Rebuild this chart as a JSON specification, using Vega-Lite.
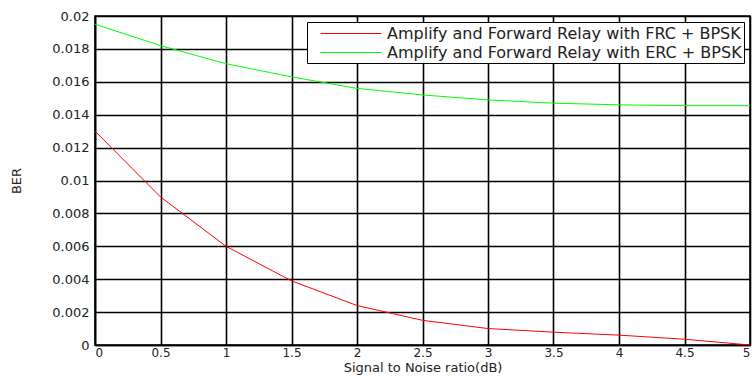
{
  "$schema": "https://vega.github.io/schema/vega-lite/v6.json",
  "width": 655,
  "height": 329,
  "autosize": {"type": "none"},
  "padding": {"left": 95, "top": 16, "right": 2, "bottom": 38},
  "background": "white",
  "config": {
    "font": "DejaVu Sans",
    "view": {"stroke": "black", "strokeWidth": 1.5},
    "axis": {
      "grid": true,
      "gridColor": "black",
      "gridOpacity": 1,
      "gridWidth": 1.6,
      "domainColor": "black",
      "domainWidth": 1.6,
      "ticks": false,
      "labelFont": "DejaVu Sans",
      "labelFontSize": 13,
      "labelColor": "#222222",
      "titleFont": "DejaVu Sans",
      "titleFontSize": 13,
      "titleFontWeight": "normal",
      "titleColor": "#222222"
    }
  },
  "data": {
    "values": [
      {"snr": 0, "ber": 0.013, "series": "Amplify and Forward Relay with FRC + BPSK"},
      {"snr": 0.5, "ber": 0.009, "series": "Amplify and Forward Relay with FRC + BPSK"},
      {"snr": 1, "ber": 0.006, "series": "Amplify and Forward Relay with FRC + BPSK"},
      {"snr": 1.5, "ber": 0.0039, "series": "Amplify and Forward Relay with FRC + BPSK"},
      {"snr": 2, "ber": 0.0024, "series": "Amplify and Forward Relay with FRC + BPSK"},
      {"snr": 2.5, "ber": 0.0015, "series": "Amplify and Forward Relay with FRC + BPSK"},
      {"snr": 3, "ber": 0.001, "series": "Amplify and Forward Relay with FRC + BPSK"},
      {"snr": 3.5, "ber": 0.00078, "series": "Amplify and Forward Relay with FRC + BPSK"},
      {"snr": 4, "ber": 0.0006, "series": "Amplify and Forward Relay with FRC + BPSK"},
      {"snr": 4.5, "ber": 0.00035, "series": "Amplify and Forward Relay with FRC + BPSK"},
      {"snr": 5, "ber": 0.0, "series": "Amplify and Forward Relay with FRC + BPSK"},
      {"snr": 0, "ber": 0.0195, "series": "Amplify and Forward Relay with ERC + BPSK"},
      {"snr": 0.5, "ber": 0.0182, "series": "Amplify and Forward Relay with ERC + BPSK"},
      {"snr": 1, "ber": 0.0171, "series": "Amplify and Forward Relay with ERC + BPSK"},
      {"snr": 1.5, "ber": 0.0163, "series": "Amplify and Forward Relay with ERC + BPSK"},
      {"snr": 2, "ber": 0.0156, "series": "Amplify and Forward Relay with ERC + BPSK"},
      {"snr": 2.5, "ber": 0.0152, "series": "Amplify and Forward Relay with ERC + BPSK"},
      {"snr": 3, "ber": 0.0149, "series": "Amplify and Forward Relay with ERC + BPSK"},
      {"snr": 3.5, "ber": 0.0147, "series": "Amplify and Forward Relay with ERC + BPSK"},
      {"snr": 4, "ber": 0.0146, "series": "Amplify and Forward Relay with ERC + BPSK"},
      {"snr": 4.5, "ber": 0.01455, "series": "Amplify and Forward Relay with ERC + BPSK"},
      {"snr": 5, "ber": 0.01455, "series": "Amplify and Forward Relay with ERC + BPSK"}
    ]
  },
  "mark": {"type": "line", "strokeWidth": 1},
  "encoding": {
    "x": {
      "field": "snr",
      "type": "quantitative",
      "scale": {"domain": [0, 5], "nice": false, "zero": false},
      "axis": {
        "title": "Signal to Noise ratio(dB)",
        "values": [0, 0.5, 1, 1.5, 2, 2.5, 3, 3.5, 4, 4.5, 5],
        "format": "~g",
        "labelFontSize": 12,
        "labelPadding": 2,
        "titlePadding": 3
      }
    },
    "y": {
      "field": "ber",
      "type": "quantitative",
      "scale": {"domain": [0, 0.02], "nice": false},
      "axis": {
        "title": "BER",
        "values": [0, 0.002, 0.004, 0.006, 0.008, 0.01, 0.012, 0.014, 0.016, 0.018, 0.02],
        "format": "~g",
        "labelPadding": 6,
        "titlePadding": 28
      }
    },
    "color": {
      "field": "series",
      "type": "nominal",
      "scale": {
        "domain": ["Amplify and Forward Relay with FRC + BPSK", "Amplify and Forward Relay with ERC + BPSK"],
        "range": ["#ff0000", "#00ff00"]
      },
      "legend": {
        "title": null,
        "orient": "top-right",
        "offset": 6,
        "fillColor": "white",
        "strokeColor": "black",
        "padding": 2,
        "symbolType": "M0.22,0H7",
        "symbolSize": 324,
        "symbolStrokeWidth": 1,
        "symbolFillColor": "transparent",
        "labelFontSize": 16,
        "labelFont": "DejaVu Sans",
        "labelColor": "#222222",
        "labelLimit": 600,
        "rowPadding": 1,
        "labelOffset": 59
      }
    }
  }
}
